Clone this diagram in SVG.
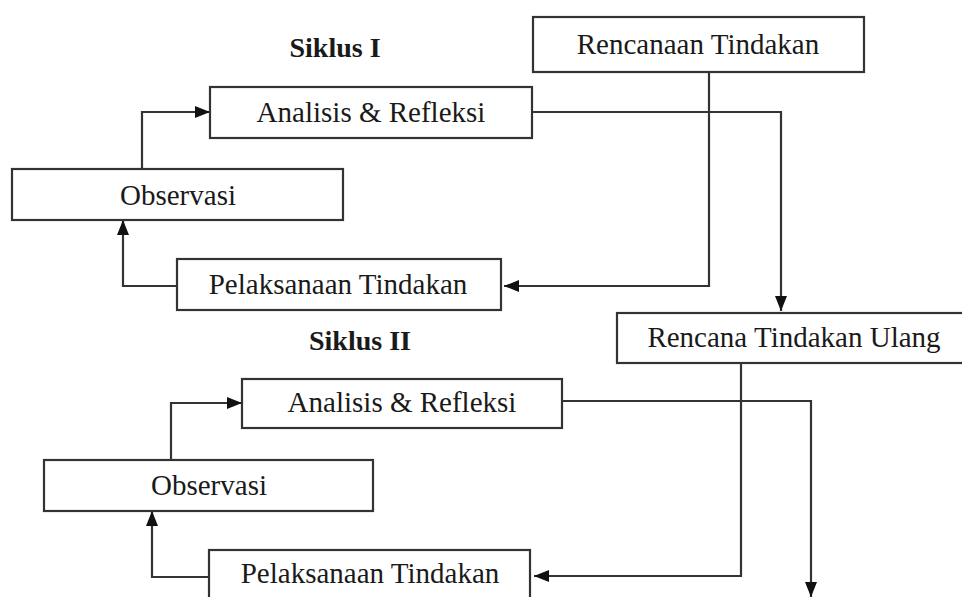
<svg xmlns="http://www.w3.org/2000/svg" width="962" height="597" viewBox="0 0 962 597">
<style>
.box{fill:#fff;stroke:#333;stroke-width:2.2}
.lbl{font-family:"Liberation Serif","Times New Roman",serif;font-size:29px;fill:#1a1a1a;text-anchor:middle}
.ttl{font-family:"Liberation Serif","Times New Roman",serif;font-size:28px;font-weight:bold;fill:#1a1a1a;text-anchor:middle}
.con{fill:none;stroke:#333;stroke-width:2.2;marker-end:url(#ah)}
</style>
<defs>
<marker id="ah" markerUnits="userSpaceOnUse" markerWidth="15" markerHeight="12" refX="15" refY="6" orient="auto">
<path d="M0,0 L15,6 L0,12 z" fill="#111"/>
</marker>
</defs>
<rect width="962" height="597" fill="#fff"/>
<g id="connectors">
<path class="con" d="M709 72 V286 H504"/>
<path class="con" d="M532 112 H781 V311"/>
<path class="con" d="M142 169 V112 H210"/>
<path class="con" d="M177 286 H123 V220"/>
<path class="con" d="M741 363 V576 H534"/>
<path class="con" d="M562 401 H811 V597"/>
<path class="con" d="M171 460 V403 H242"/>
<path class="con" d="M209 577 H152 V511"/>
</g>
<g id="siklus1"><text class="ttl" x="335" y="57">Siklus I</text></g>
<g id="siklus2"><text class="ttl" x="360" y="350">Siklus II</text></g>
<g id="rencanaan"><rect class="box" x="533" y="17" width="331" height="55"/><text class="lbl" x="698" y="54">Rencanaan Tindakan</text></g>
<g id="analisis1"><rect class="box" x="210" y="87" width="322" height="51"/><text class="lbl" x="371" y="122">Analisis &amp; Refleksi</text></g>
<g id="observasi1"><rect class="box" x="12" y="169" width="331" height="51"/><text class="lbl" x="178" y="205">Observasi</text></g>
<g id="pelaksanaan1"><rect class="box" x="177" y="259" width="324" height="51"/><text class="lbl" x="338" y="294">Pelaksanaan Tindakan</text></g>
<g id="rencanaUlang"><rect class="box" x="617" y="313" width="352" height="50"/><text class="lbl" x="794" y="347">Rencana Tindakan Ulang</text></g>
<g id="analisis2"><rect class="box" x="242" y="379" width="320" height="49"/><text class="lbl" x="402" y="412">Analisis &amp; Refleksi</text></g>
<g id="observasi2"><rect class="box" x="44" y="460" width="329" height="51"/><text class="lbl" x="209" y="495">Observasi</text></g>
<g id="pelaksanaan2"><rect class="box" x="209" y="550" width="321" height="60"/><text class="lbl" x="370" y="583">Pelaksanaan Tindakan</text></g>
</svg>
